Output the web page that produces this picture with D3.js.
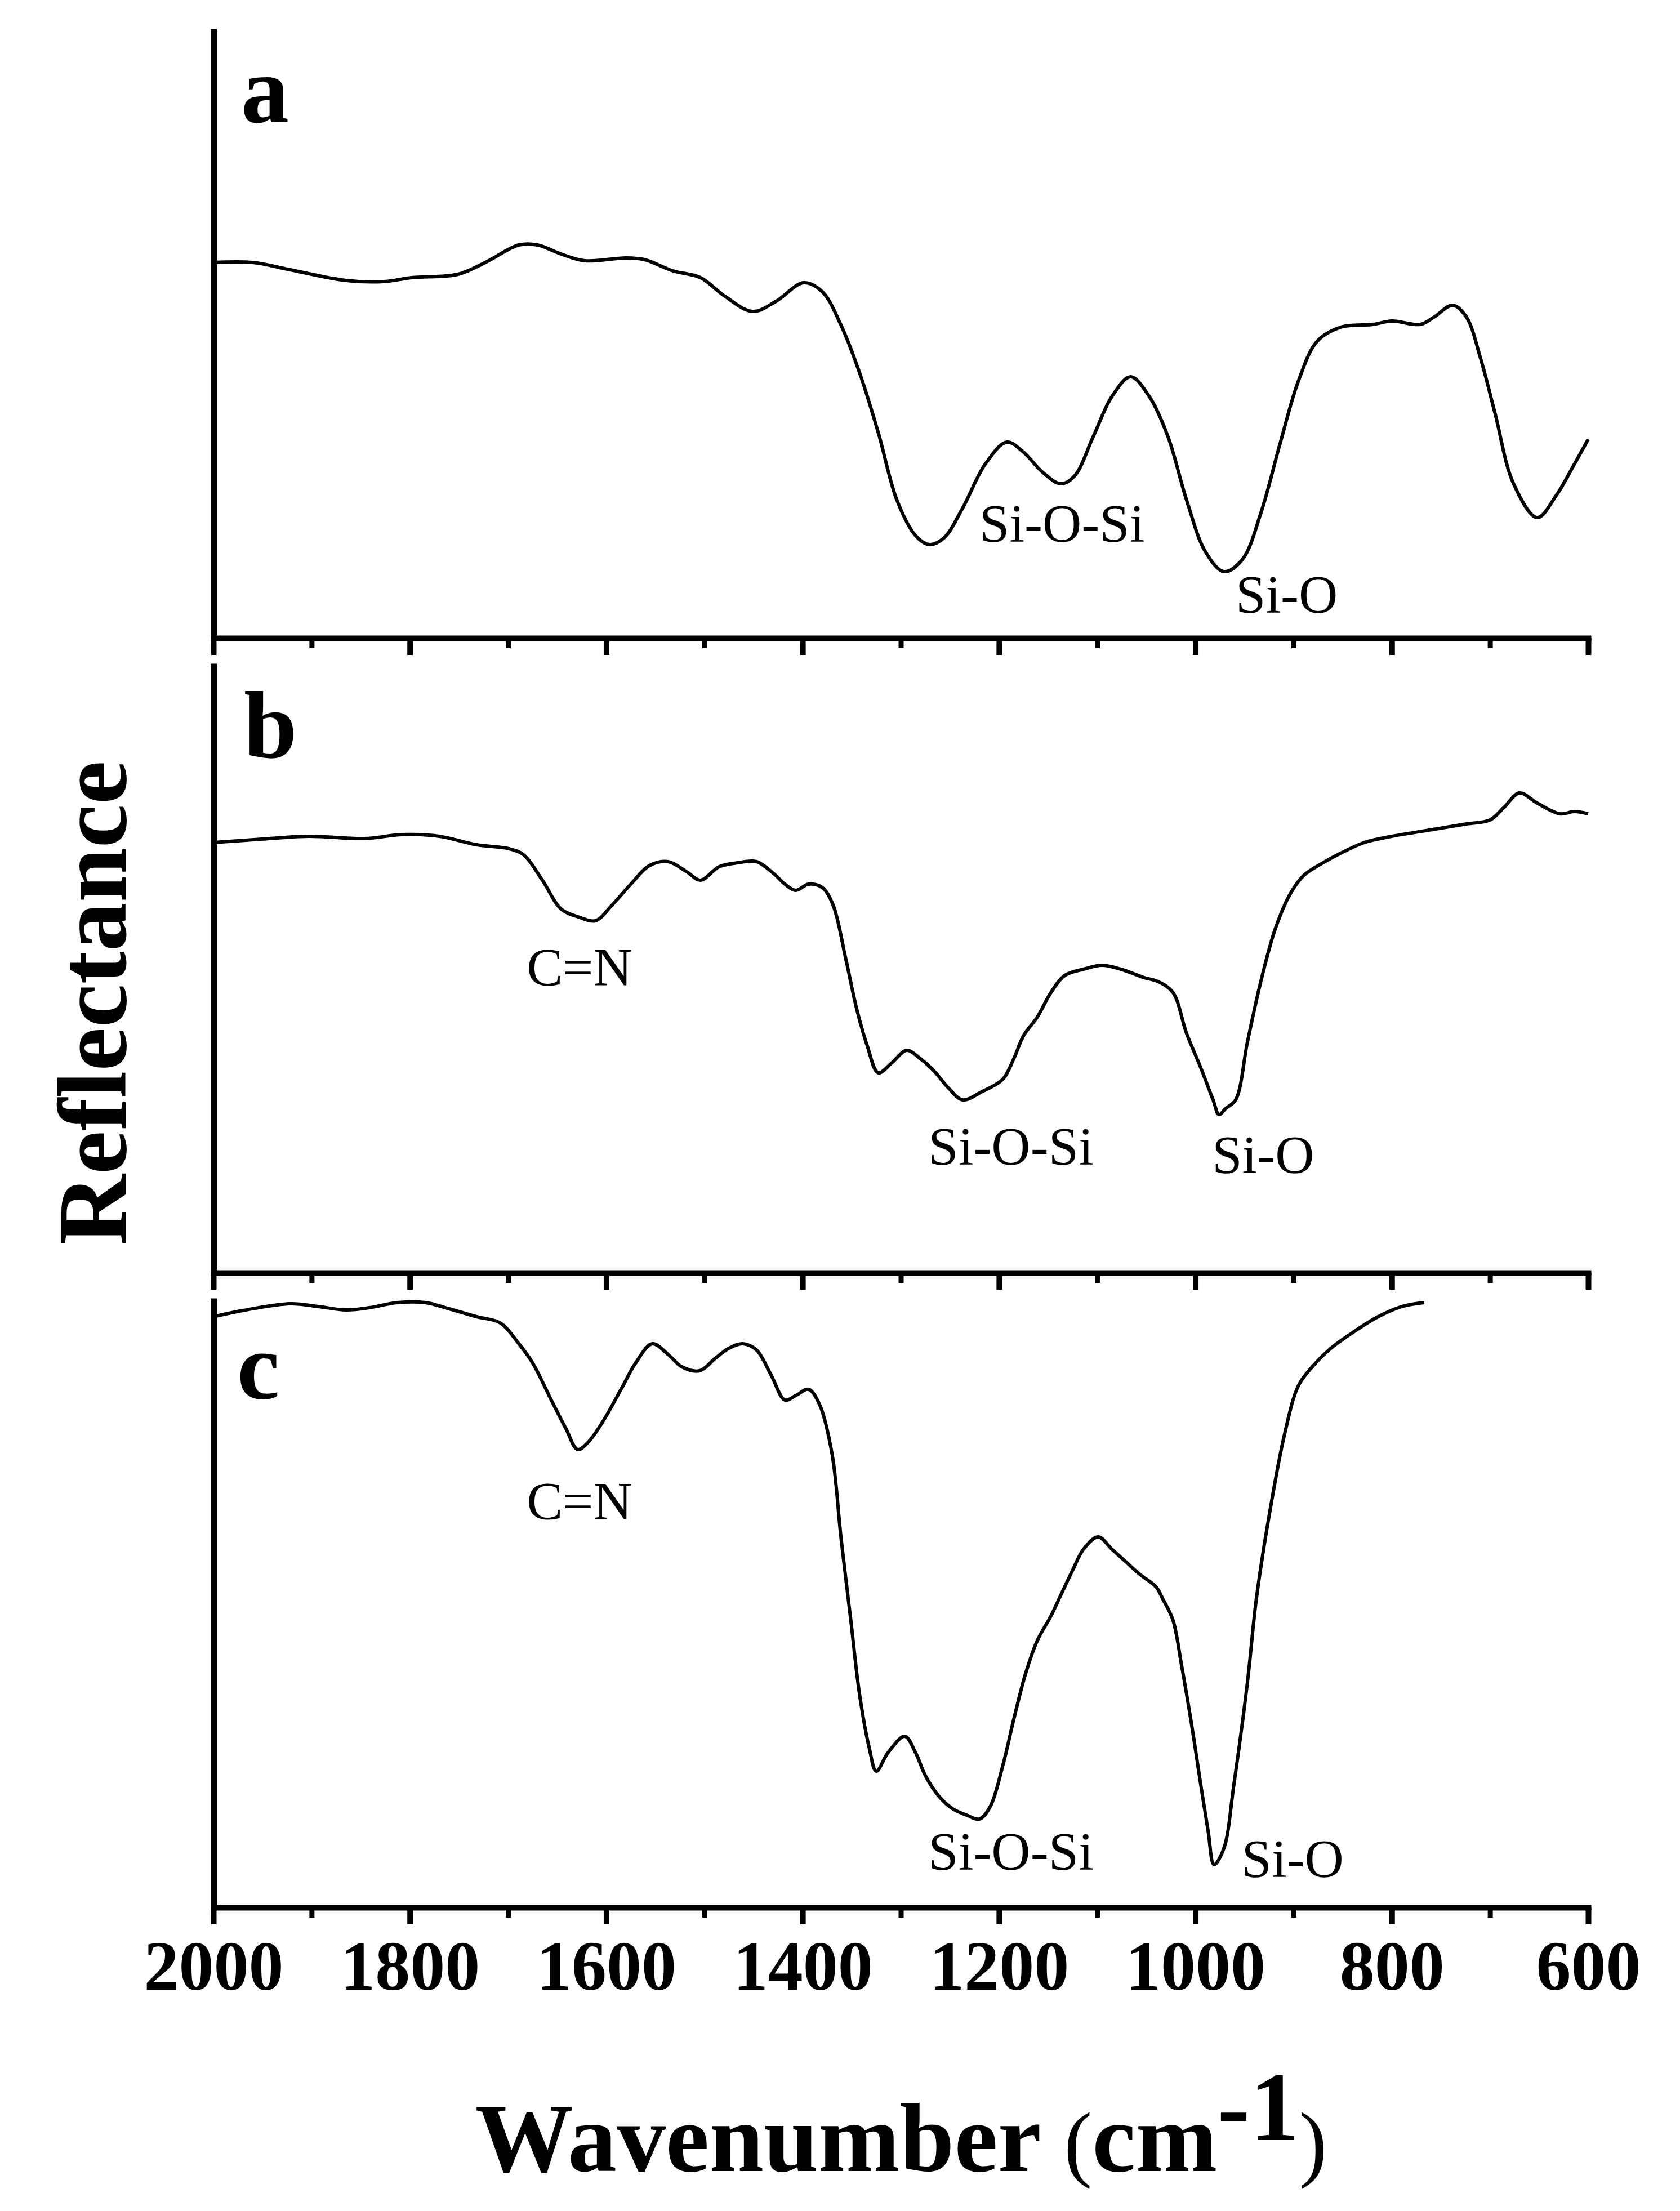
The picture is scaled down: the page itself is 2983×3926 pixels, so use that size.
<!DOCTYPE html>
<html><head><meta charset="utf-8">
<script src="https://cdn.jsdelivr.net/npm/d3@7"></script>
<style>body{margin:0;background:#fff}</style>
</head><body>
<script>
// ---- data (wavenumber in cm-1, reflectance in arbitrary units) ----
const waveA=[2000,1960,1922,1865,1827,1798,1751,1722,1689,1670,1646,1622,1580,1561,1532,1504,1480,1451,1427,1399,1380,1361,1342,1323,1304,1285,1271,1256,1237,1214,1192,1175,1156,1137,1123,1104,1085,1066,1047,1028,1009,990,971,952,933,914,895,876,852,819,800,771,757,738,724,710,695,676,652,633,614,600];
const reflA=[66.7,66.7,65.4,63.5,63.3,64.0,64.6,66.8,69.8,69.8,68.2,67.0,67.5,67.2,65.2,64.0,60.8,58.0,59.8,63.1,61.5,55.6,47.1,36.5,24.5,18.2,16.6,17.8,23.1,30.9,34.8,33.0,29.5,27.4,28.8,35.8,42.9,46.4,42.9,35.8,24.5,15.4,11.8,14.0,22.4,34.4,45.7,52.7,55.2,55.7,56.3,55.7,57.0,59.1,57.0,49.9,40.0,27.4,21.4,25.2,30.9,35.3];

const waveB=[2000,1951,1903,1846,1808,1770,1732,1699,1684,1665,1646,1627,1611,1594,1575,1556,1537,1518,1504,1485,1466,1447,1429,1418,1407,1394,1380,1369,1356,1345,1334,1323,1309,1294,1280,1266,1252,1237,1218,1196,1185,1175,1161,1147,1133,1114,1095,1076,1052,1038,1023,1009,995,982,976,969,959,947,933,919,904,890,871,852,828,800,762,724,700,686,670,652,629,614,600];
const reflB=[76.4,77.0,77.5,77.1,77.8,77.5,76.0,75.3,74.2,69.7,64.6,63.1,62.5,65.3,69.0,72.3,73.0,71.2,69.7,72.1,72.8,73.0,70.8,69.0,67.9,69.0,68.4,65.3,55.7,46.9,40.2,35.5,37.3,39.5,38.0,35.8,32.9,30.7,32.1,34.4,38.0,42.1,45.4,49.8,52.8,53.9,54.6,53.9,52.4,51.7,49.8,42.5,36.6,30.7,28.1,29.2,30.7,41.0,52.0,60.9,67.1,70.5,72.7,74.5,76.4,77.5,78.6,79.7,80.4,82.6,85.2,83.4,81.5,81.9,81.5];

const waveC=[2000,1970,1922,1893,1865,1841,1813,1784,1760,1732,1708,1689,1675,1656,1641,1629,1618,1603,1584,1570,1553,1537,1523,1505,1489,1475,1461,1447,1432,1418,1407,1394,1383,1370,1361,1351,1342,1332,1325,1313,1296,1285,1275,1261,1247,1233,1220,1209,1196,1185,1173,1161,1147,1137,1125,1114,1099,1085,1071,1057,1040,1033,1023,1014,1004,995,987,981,971,961,947,938,925,909,895,881,862,838,814,790,767];
const reflC=[104.9,106.0,107.2,106.7,106.1,106.5,107.4,107.4,106.3,104.9,103.8,100.1,96.7,90.1,85.0,81.3,82.7,86.4,92.3,96.7,100.1,98.2,96.0,95.3,97.5,99.3,100.1,99.0,94.5,90.1,90.9,92.0,89.4,80.5,65.8,51.1,37.8,28.2,24.2,27.5,30.4,27.5,23.4,19.7,17.5,16.4,15.7,17.9,25.3,33.4,41.5,47.4,51.8,55.5,59.9,63.6,65.8,63.6,61.4,59.2,56.9,54.7,51.1,42.9,32.6,22.3,13.5,7.6,10.5,21.6,40.0,54.7,69.5,84.2,92.7,96.0,99.3,102.3,104.9,106.7,107.4];

const panelLabels=["a","b","c"];
const majorTicks=[2000,1800,1600,1400,1200,1000,800,600];
const minorTicks=[1900,1700,1500,1300,1100,900,700];
// peak annotations: text, wavenumber of left edge, reflectance of baseline
const notesA=[{t:"Si-O-Si",w:1220,r:17.1},{t:"Si-O",w:959,r:4.5}];
const notesB=[{t:"C=N",w:1681,r:51.0},{t:"Si-O-Si",w:1272,r:19.2},{t:"Si-O",w:983,r:17.7}];
const notesC=[{t:"C=N",w:1681,r:68.9},{t:"Si-O-Si",w:1272,r:6.7},{t:"Si-O",w:953,r:5.4}];
const xTitle="Wavenumber";
const yTitle="Reflectance";

// ---- drawing ----
const W=2983,H=3926;
const serif="'Liberation Serif','Times New Roman',Times,serif";
const svg=d3.select("body").append("svg").attr("width",W).attr("height",H)
  .style("background","#fff").attr("font-family",serif);
const x=d3.scaleLinear().domain([2000,600]).range([379,2820]);

const panels=[
  {label:panelLabels[0],wave:waveA,refl:reflA,axisY:1133,notes:notesA,lab:[428,217]},
  {label:panelLabels[1],wave:waveB,refl:reflB,axisY:2260,notes:notesB,lab:[433,1345]},
  {label:panelLabels[2],wave:waveC,refl:reflC,axisY:3387,notes:notesC,lab:[421,2483]}
];

panels.forEach((p,i)=>{
  const y=d3.scaleLinear().domain([0,108.2]).range([p.axisY,p.axisY-1082]);
  const g=svg.append("g");

  // left axis line
  const gl=g.append("g").attr("transform",`translate(${x(2000)},0)`)
    .call(d3.axisLeft(y).tickValues([]).tickSizeOuter(0));
  gl.select(".domain").attr("stroke","#000").attr("stroke-width",11);

  // bottom axis: minor ticks
  const gm=g.append("g").attr("transform",`translate(0,${p.axisY})`)
    .call(d3.axisBottom(x).tickValues(minorTicks).tickSize(18).tickSizeOuter(0).tickFormat(""));
  gm.select(".domain").attr("stroke","#000").attr("stroke-width",10).attr("stroke-linecap","square");
  gm.selectAll(".tick line").attr("stroke","#000").attr("stroke-width",9);

  // bottom axis: major ticks
  const gM=g.append("g").attr("transform",`translate(0,${p.axisY})`)
    .call(d3.axisBottom(x).tickValues(majorTicks).tickSize(30).tickSizeOuter(0)
      .tickFormat(i===2?d3.format("d"):""));
  gM.select(".domain").remove();
  gM.selectAll(".tick line").attr("stroke","#000").attr("stroke-width",10);
  gM.attr("font-family",serif).attr("font-size",124).attr("font-weight","bold");
  gM.selectAll(".tick text").attr("y",146).attr("dy",0).attr("fill","#000");

  // spectrum
  const pts=p.wave.map((w,k)=>[w,p.refl[k]]);
  g.append("path").datum(pts)
    .attr("d",d3.line().x(d=>x(d[0])).y(d=>y(d[1])).curve(d3.curveCatmullRom.alpha(0.5)))
    .attr("fill","none").attr("stroke","#000").attr("stroke-width",6)
    .attr("stroke-linejoin","round");

  // panel letter
  g.append("text").attr("x",p.lab[0]).attr("y",p.lab[1])
    .attr("font-size",170).attr("font-weight","bold").text(p.label);

  // annotations
  g.selectAll("text.note").data(p.notes).join("text").attr("class","note")
    .attr("x",d=>x(d.w)).attr("y",d=>y(d.r))
    .attr("font-size",96).text(d=>d.t);
});

// y title
svg.append("text").attr("transform","translate(223,1781) rotate(-90)")
  .attr("text-anchor","middle").attr("font-size",174).attr("font-weight","bold").text(yTitle);

// x title
const xt=svg.append("text").attr("x",1600).attr("y",3855).attr("text-anchor","middle")
  .attr("font-size",174).attr("font-weight","bold");
xt.append("tspan").text(xTitle+" ");
xt.append("tspan").attr("font-weight","normal").attr("font-size",150).text("(");
xt.append("tspan").text("cm");
xt.append("tspan").attr("dy",-55).text("-1");
xt.append("tspan").attr("dy",55).attr("font-weight","normal").attr("font-size",150).text(")");
</script>
</body></html>
